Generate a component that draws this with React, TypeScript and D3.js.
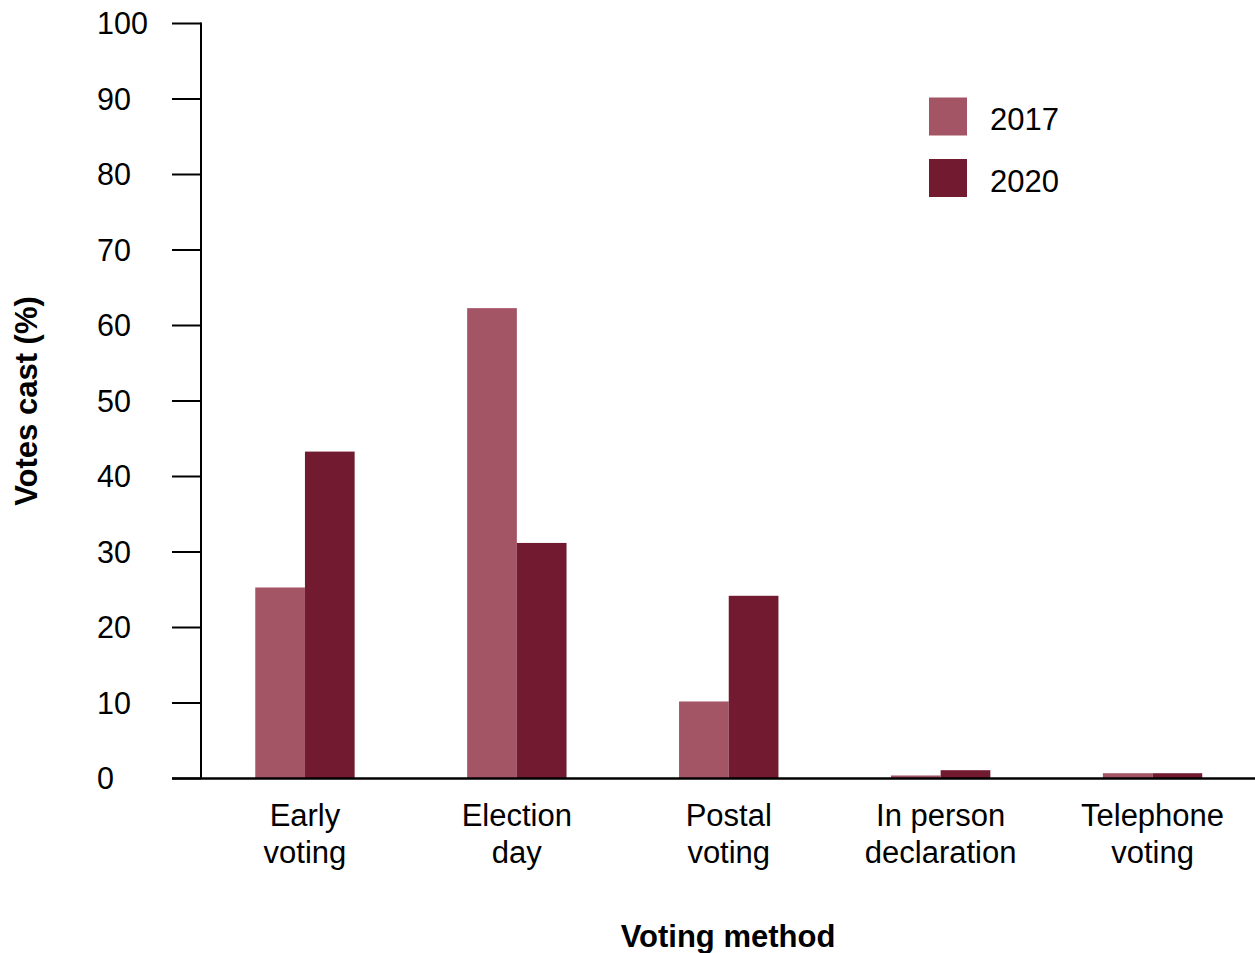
import React from "react";
import * as d3 from "d3";

const categories: string[][] = [
  ["Early", "voting"],
  ["Election", "day"],
  ["Postal", "voting"],
  ["In person", "declaration"],
  ["Telephone", "voting"],
];
const seriesNames = ["2017", "2020"];
const values2017 = [25.3, 62.3, 10.2, 0.4, 0.7];
const values2020 = [43.3, 31.2, 24.2, 1.1, 0.7];
const yTicks = [0, 10, 20, 30, 40, 50, 60, 70, 80, 90, 100];
const colors = ["#a35565", "#721a2f"];

const W = 1255;
const H = 953;
const FONT = "'Liberation Sans', Arial, Helvetica, sans-serif";

export default function App() {
  const y = d3.scaleLinear().domain([0, 100]).range([778.5, 23.5]);
  const x0 = d3
    .scaleBand<number>()
    .domain(d3.range(categories.length))
    .range([199, 1258.5])
    .paddingInner(0.531)
    .paddingOuter(0.2655);
  const x1 = d3
    .scaleBand<number>()
    .domain([0, 1])
    .range([0, x0.bandwidth()]);
  const series = [values2017, values2020];
  const axisX = 201;

  return (
    <svg
      width={W}
      height={H}
      style={{ position: "absolute", left: 0, top: 0, background: "#fff" }}
      fontFamily={FONT}
    >
      <rect x={0} y={0} width={W} height={H} fill="#fff" />
      {/* bars */}
      {categories.map((_, i) =>
        series.map((vals, s) => (
          <rect
            key={`${i}-${s}`}
            x={(x0(i) as number) + (x1(s) as number)}
            y={y(vals[i])}
            width={x1.bandwidth()}
            height={y(0) - y(vals[i])}
            fill={colors[s]}
          />
        ))
      )}
      {/* y axis */}
      <line x1={axisX} x2={axisX} y1={y(100) - 1} y2={y(0)} stroke="#000" strokeWidth={2} />
      {yTicks.map((t) => (
        <g key={t}>
          <line x1={172} x2={axisX} y1={y(t)} y2={y(t)} stroke="#000" strokeWidth={2} />
          <text x={97} y={y(t)} dy="0.36em" fontSize={30.5} fill="#000">
            {t}
          </text>
        </g>
      ))}
      {/* x axis */}
      <line x1={172} x2={W} y1={y(0)} y2={y(0)} stroke="#000" strokeWidth={2.5} />
      {categories.map((lines, i) => {
        const cx = (x0(i) as number) + x0.bandwidth() / 2;
        return (
          <text key={i} x={cx} textAnchor="middle" fontSize={31} fill="#000">
            {lines.map((l, k) => (
              <tspan key={k} x={cx} y={826 + k * 37}>
                {l}
              </tspan>
            ))}
          </text>
        );
      })}
      {/* axis titles */}
      <text
        x={728}
        y={947}
        textAnchor="middle"
        fontSize={31}
        fontWeight="bold"
        fill="#000"
      >
        Voting method
      </text>
      <text
        transform="translate(37,401) rotate(-90)"
        textAnchor="middle"
        fontSize={31}
        fontWeight="bold"
        fill="#000"
      >
        Votes cast (%)
      </text>
      {/* legend */}
      {seriesNames.map((n, s) => (
        <g key={n}>
          <rect x={929} y={97.5 + s * 61.5} width={38} height={38} fill={colors[s]} />
          <text x={990} y={130 + s * 61.5} fontSize={31} fill="#000">
            {n}
          </text>
        </g>
      ))}
    </svg>
  );
}
